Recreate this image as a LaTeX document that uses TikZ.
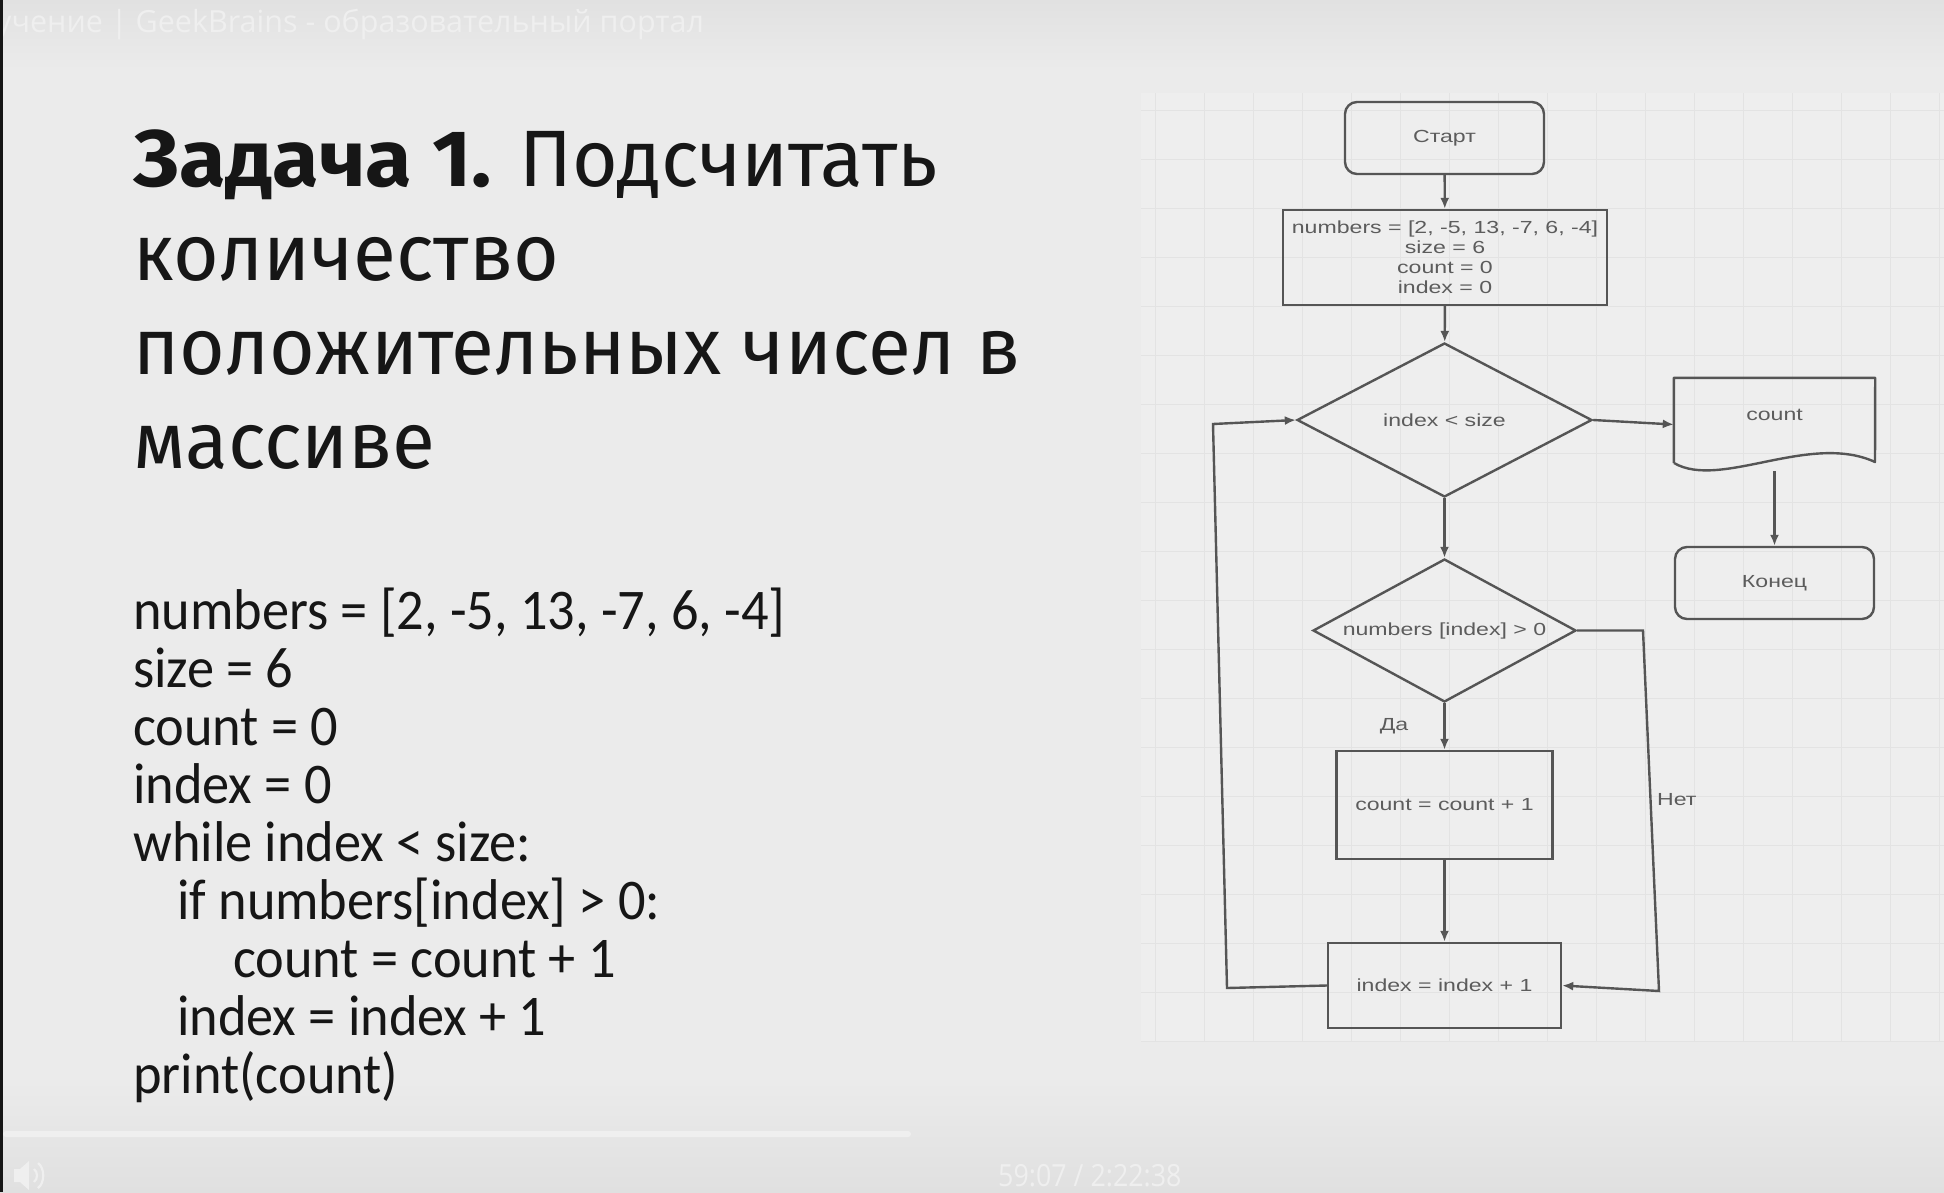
\documentclass[tikz,border=0pt]{standalone}
\usepackage{fontspec}
\usetikzlibrary{arrows.meta,shapes.geometric,calc}

\newfontfamily\titlefont[FakeStretch=0.98]{Fira Sans}
\newfontfamily\titleheavy[FakeStretch=1.06]{Fira Sans}
\newfontfamily\codefont[FakeStretch=0.945]{Carlito}
\newfontfamily\chartfont[FakeStretch=1.32]{Liberation Sans}
\newfontfamily\uifont{Open Sans}
\newfontfamily\clockfont[FakeStretch=0.88]{Open Sans}

\definecolor{bg}{HTML}{EBEBEB}
\definecolor{bandtop}{HTML}{E1E1E1}
\definecolor{bandbot}{HTML}{E0E0E0}
\definecolor{gridbg}{HTML}{EEEEEE}
\definecolor{gridline}{HTML}{E3E3E3}
\definecolor{ink}{HTML}{161616}
\definecolor{chartline}{HTML}{555555}
\definecolor{charttext}{HTML}{5C5C5C}
\definecolor{ghost}{HTML}{EFEFEF}

\tikzset{
  fc/.style={draw=chartline, line width=2.4pt, text=charttext, inner sep=0pt,
    align=center, font=\chartfont\fontsize{17.5}{20}\selectfont},
  term/.style={fc, rounded corners=12pt, minimum width=199pt, minimum height=72pt},
  proc/.style={fc, rectangle},
  dec/.style={fc, diamond},
  flow/.style={draw=chartline, line width=2.4pt, -{Latex[length=11pt,width=9pt]}},
  flowlbl/.style={text=charttext, inner sep=0pt, font=\chartfont\fontsize{17.5}{20}\selectfont},
  titleline/.style={anchor=base west, inner sep=0pt, text=ink,
    font=\titlefont\fontsize{80}{94}\selectfont},
  codeline/.style={anchor=base west, inner sep=0pt, text=ink,
    font=\codefont\fontsize{57.5}{58}\selectfont},
  uitext/.style={inner sep=0pt, text=ghost, font=\uifont\fontsize{30.5}{34}\selectfont}
}

\begin{document}
\begin{tikzpicture}[x=1pt, y=-1pt]
  \useasboundingbox (0,0) rectangle (1944,1192);

  % slide background with the player bands
  \fill[bg] (0,0) rectangle (1944,1192);
  \shade[top color=bandtop, bottom color=bg] (0,0) rectangle (1944,70);
  \shade[top color=bg, bottom color=bandbot] (0,1080) rectangle (1944,1192);
  \fill[ink] (0,0) rectangle (3,1192);

  % browser title and player controls
  \begin{scope}
    \clip (3,0) rectangle (1944,1192);
    \node[uitext, anchor=west] (tabtitle) at (-4,25)
      {учение | GeekBrains - образовательный портал};
  \end{scope}
  \fill[ghost, rounded corners=3pt] (3,1131) rectangle (911,1137);
  \node[uitext, anchor=west, font=\clockfont\fontsize{30.5}{34}\selectfont] (clock) at (998,1176)
    {59:07 / 2:22:38};
  \fill[ghost] (14,1169) -- (20,1169) -- (29,1161) -- (29,1190) -- (20,1182) -- (14,1182) -- cycle;
  \draw[ghost, line width=2.2pt] (34,1169) .. controls (38,1172) and (38,1179) .. (34,1182);
  \draw[ghost, line width=2.2pt] (38,1163) .. controls (45,1168) and (45,1183) .. (38,1188);

  % task statement
  \node[titleline] (t1) at (133,186) {{\titleheavy\bfseries Задача 1.} Подсчитать};
  \node[titleline] (t2) at (133,280) {количество};
  \node[titleline] (t3) at (133,374) {положительных чисел в};
  \node[titleline] (t4) at (133,468) {массиве};

  % program listing
  \node[codeline] (c1) at (133,629) {numbers = [2, -5, 13, -7, 6, -4]};
  \node[codeline] (c2) at (133,687) {size = 6};
  \node[codeline] (c3) at (133,745) {count = 0};
  \node[codeline] (c4) at (133,803) {index = 0};
  \node[codeline] (c5) at (133,861) {while index < size:};
  \node[codeline] (c6) at (177,919) {if numbers[index] > 0:};
  \node[codeline] (c7) at (233,977) {count = count + 1};
  \node[codeline] (c8) at (177,1035) {index = index + 1};
  \node[codeline] (c9) at (133,1093) {print(count)};

  % squared paper behind the flowchart
  \fill[gridbg] (1141,93) rectangle (1944,1041);
  \foreach \gx in {1155,1204,...,1944} \draw[gridline, line width=1pt] (\gx,93) -- (\gx,1041);
  \foreach \gy in {110,159,...,1041} \draw[gridline, line width=1pt] (1141,\gy) -- (1944,\gy);

  % flowchart blocks
  \node[term] (start) at (1444.5,138) {Старт};
  \node[proc, minimum width=324pt, minimum height=95pt] (init) at (1445,257.5)
    {numbers = [2, -5, 13, -7, 6, -4]\\size = 6\\count = 0\\index = 0};
  \node[dec, aspect=1.92, minimum width=295pt, minimum height=154pt] (cond1) at (1444.5,420) {index < size};
  \node[inner sep=0pt, minimum width=201pt, minimum height=93pt, text=charttext,
    font=\chartfont\fontsize{17.5}{20}\selectfont] (out) at (1774.5,424.5)
    {\raisebox{20pt}{count}};
  \draw[chartline, line width=2.4pt, line join=round]
    (out.north west |- 0,463) -- (out.north west) -- (out.north east) -- (1875,462)
    .. controls (1810,432) and (1720,490) .. (1674,463);
  \node[term] (fin) at (1774.5,583) {Конец};
  \node[dec, aspect=1.84, minimum width=263pt, minimum height=143pt] (cond2) at (1444.5,630.5) {numbers [index] > 0};
  \node[proc, minimum width=216pt, minimum height=108pt] (inc) at (1444.5,805) {count = count + 1};
  \node[proc, minimum width=233pt, minimum height=85pt] (step) at (1444.5,985.5) {index = index + 1};

  % flowchart connectors
  \draw[flow] (start) -- (init);
  \draw[flow] (init) -- (cond1);
  \draw[flow] (cond1.east) -- (out.west);
  \draw[flow] (out.south) -- (fin);
  \draw[flow] (cond1) -- (cond2);
  \draw[flow] (cond2) -- node[flowlbl, midway, left=35pt] (yes) {Да} (inc);
  \draw[flow] (inc) -- (step);
  \draw[flow] (cond2.east) -- (1643,630.5) -- (1659,991) -- (step.east);
  \node[flowlbl, anchor=west] (no) at (1657,800) {Нет};
  \draw[flow] (step.west) -- (1227,988) -- (1213,424) -- (cond1.west);
\end{tikzpicture}
\end{document}
